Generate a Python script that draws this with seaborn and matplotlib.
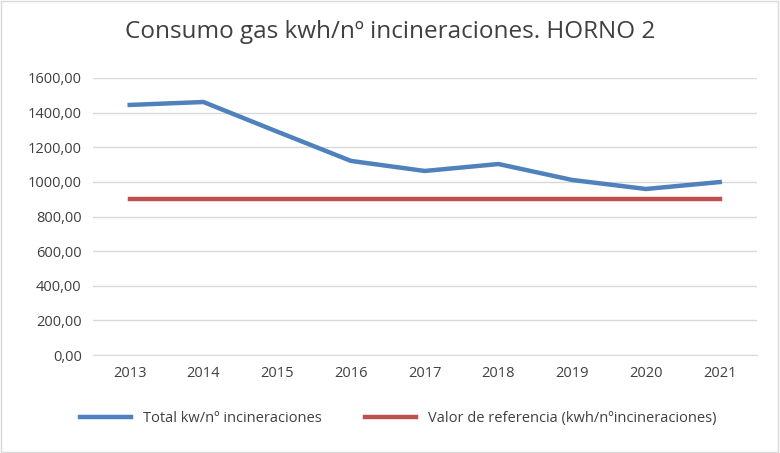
import matplotlib

matplotlib.use("Agg")
import matplotlib.pyplot as plt
import pandas as pd
import seaborn as sns
from matplotlib.patches import Rectangle

years = ["2013", "2014", "2015", "2016", "2017", "2018", "2019", "2020", "2021"]
total = [1444, 1461, 1290, 1121, 1063, 1103, 1011, 959, 999]
referencia = [900] * len(years)

df = pd.DataFrame({"x": range(len(years)), "total": total, "ref": referencia})

plt.rcParams["font.family"] = "Open Sans"
fig = plt.figure(figsize=(7.8, 4.53), dpi=100)
ax = fig.add_axes([0.119, 0.216, 0.851, 0.612])

sns.lineplot(data=df, x="x", y="total", ax=ax, color="#4f81bd", linewidth=3.2,
             label="Total kw/nº incineraciones")
sns.lineplot(data=df, x="x", y="ref", ax=ax, color="#c0504d", linewidth=3.2,
             label="Valor de referencia (kwh/nºincineraciones)")

ax.set_xlim(-0.5, len(years) - 0.5)
ax.set_ylim(0, 1600)
ax.set_yticks(range(0, 1601, 200))
ax.set_yticklabels([f"{v},00" for v in range(0, 1601, 200)], fontsize=10.5, color="#404040")
ax.set_xticks(range(len(years)))
ax.set_xticklabels(years, fontsize=10.5, color="#404040")
ax.set_xlabel("")
ax.set_ylabel("")
ax.grid(axis="y", color="#d9d9d9", linewidth=1)
ax.set_axisbelow(True)
for s in ["top", "right", "left"]:
    ax.spines[s].set_visible(False)
ax.spines["bottom"].set_color("#d9d9d9")
ax.tick_params(length=0, pad=8)

fig.suptitle("Consumo gas kwh/nº incineraciones. HORNO 2", y=0.955, fontsize=17.5, color="#404040")
ax.legend(loc="upper center", bbox_to_anchor=(0.46, -0.155), ncol=2, frameon=False,
          fontsize=10.5, labelcolor="#404040", handlelength=3.5, columnspacing=3)

fig.patches.append(Rectangle((0.001, 0.002), 0.997, 0.996, transform=fig.transFigure,
                             fill=False, edgecolor="#d9d9d9", linewidth=1))

fig.savefig("out.png", dpi=100)
